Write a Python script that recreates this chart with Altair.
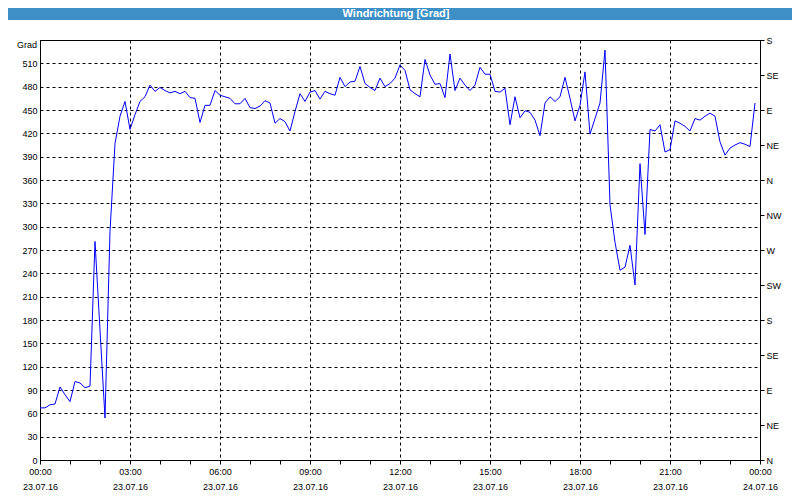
import altair as alt
import pandas as pd

# Wind direction readings (degrees, unwrapped scale 0..540), every 10 minutes from 23.07.16 00:00
directions = [
    67, 67, 71, 72, 94, 84, 75, 101, 99, 93,
    95, 281, 167, 54, 294, 407, 442, 461, 425, 444,
    461, 467, 482, 474, 479, 475, 472, 474, 471, 474,
    466, 465, 434, 456, 456, 475, 469, 467, 465, 458,
    458, 465, 453, 452, 455, 462, 459, 433, 439, 435,
    423, 448, 471, 461, 473, 475, 464, 474, 471, 469,
    492, 480, 486, 487, 506, 484, 479, 475, 491, 480,
    484, 491, 508, 501, 476, 471, 467, 515, 495, 483,
    484, 466, 522, 475, 491, 482, 475, 482, 505, 496,
    496, 474, 473, 478, 431, 467, 440, 449, 447, 437,
    417, 459, 467, 461, 467, 492, 465, 436, 456, 499,
    419, 439, 459, 527, 328, 280, 244, 248, 276, 225,
    381, 290, 425, 423, 431, 396, 399, 436, 433, 429,
    423, 439, 437, 442, 446, 442, 409, 392, 401, 405,
    408, 406, 403, 459,
]
times = pd.date_range("2016-07-23 00:00", periods=len(directions), freq="10min")
left_ticks = list(range(0, 540, 30))
right_ticks = list(range(0, 541, 45))
compass = ["N", "NE", "E", "SE", "S", "SW", "W", "NW"]
title_text = "Windrichtung [Grad]"
y_unit = "Grad"

df = pd.DataFrame({"zeit": times.strftime("%Y-%m-%dT%H:%M:%S"), "grad": directions})

FONT = "Liberation Sans"
x_domain = [alt.DateTime(year=2016, month=7, date=23, hours=0),
            alt.DateTime(year=2016, month=7, date=24, hours=0)]
x_ticks = [alt.DateTime(year=2016, month=7, date=23 + h // 24, hours=h % 24) for h in range(25)]

x_enc = alt.X(
    "zeit:T",
    scale=alt.Scale(domain=x_domain),
    axis=alt.Axis(
        values=x_ticks,
        title=None,
        grid=True,
        gridColor="black",
        gridDash=[3, 3],
        gridOpacity={"condition": {"test": "hours(datum.value) % 3 == 0", "value": 1}, "value": 0},
        labelExpr="hours(datum.value) % 3 == 0 ? [timeFormat(datum.value, '%H:%M'), timeFormat(datum.value, '%d.%m.%y')] : ''",
        labelOverlap=False,
        labelFlush=False,
        labelAngle=0,
        labelLineHeight=15,
        labelPadding=3,
        tickSize=4,
        tickColor="black",
        domainColor="black",
    ),
)

line_left = alt.Chart(df).mark_line(color="#0000ff", strokeWidth=1).encode(
    x=x_enc,
    y=alt.Y(
        "grad:Q",
        scale=alt.Scale(domain=[0, 540], nice=False, zero=True),
        axis=alt.Axis(
            values=left_ticks,
            title=None,
            grid=True,
            gridColor="black",
            gridDash=[3, 3],
            ticks=False,
            labelPadding=3,
            domainColor="black",
        ),
    ),
)

line_right = alt.Chart(df).mark_line(opacity=0).encode(
    x=x_enc,
    y=alt.Y(
        "grad:Q",
        scale=alt.Scale(domain=[0, 540], nice=False, zero=True),
        axis=alt.Axis(
            orient="right",
            values=right_ticks,
            title=None,
            grid=False,
            tickSize=4,
            tickColor="black",
            labelPadding=2,
            domainColor="black",
            labelExpr="['" + "','".join(compass) + "'][round(datum.value / 45) % 8]",
        ),
    ),
)

one = pd.DataFrame({"t": [title_text], "u": [y_unit]})
header = alt.Chart(one).mark_rect(color="#3d8fc6").encode(
    x=alt.value(-32), x2=alt.value(752), y=alt.value(-32), y2=alt.value(-20)
)
header_text = alt.Chart(one).mark_text(
    color="white", font=FONT, fontSize=11, fontWeight="bold", baseline="middle", align="center"
).encode(x=alt.value(356), y=alt.value(-26), text="t:N")
unit_text = alt.Chart(one).mark_text(
    color="black", font=FONT, fontSize=9, baseline="middle", align="right"
).encode(x=alt.value(-3), y=alt.value(5), text="u:N")

chart = (
    alt.layer(header, header_text, unit_text, line_left, line_right)
    .resolve_scale(y="independent")
    .properties(
        width=720,
        height=420,
        padding={"left": 32, "top": 32, "right": 32, "bottom": 32},
        autosize=alt.AutoSizeParams(type="none"),
        background="white",
    )
    .configure_view(stroke="black", strokeWidth=1)
    .configure_axis(labelFont=FONT, labelFontSize=9, labelColor="black")
)

chart.save("out.html", embed_options={"renderer": "svg", "actions": False})
